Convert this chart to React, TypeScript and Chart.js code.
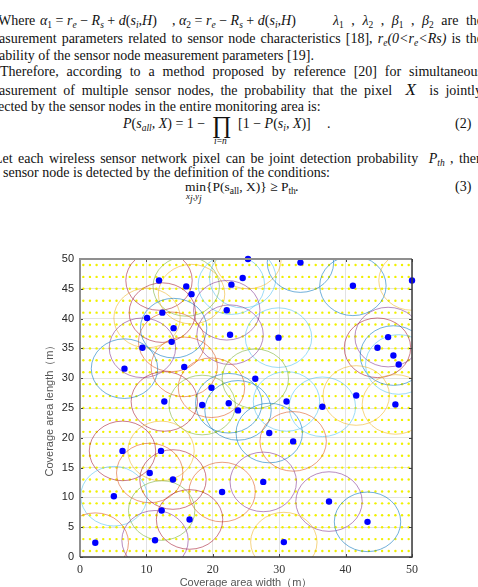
import React, { useEffect, useRef } from "react";
import { Chart, registerables } from "chart.js";
Chart.register(...registerables);

// Sensor node positions (m)
const nodeX = [11.9, 16.0, 16.8, 22.8, 24.5, 25.3, 22.1, 12.4, 10.1, 14.1, 22.6, 13.8, 9.4, 6.7, 15.7, 19.8, 12.7, 18.4, 22.4, 33.2, 41.1, 50.0, 29.9, 46.4, 44.8, 47.2, 48.0, 26.4, 31.1, 41.6, 36.5, 47.5, 23.8, 6.4, 12.2, 10.5, 14.0, 5.1, 21.4, 12.3, 16.5, 2.3, 11.3, 28.5, 32.1, 27.6, 37.5, 43.3, 30.7];
const nodeY = [46.4, 45.4, 44.1, 45.7, 46.8, 50.0, 41.4, 41.0, 40.1, 38.4, 37.3, 36.1, 35.1, 31.6, 31.9, 28.4, 26.1, 25.5, 25.8, 49.4, 45.5, 46.4, 36.8, 36.9, 35.1, 33.8, 32.3, 29.9, 26.1, 27.1, 25.2, 25.6, 24.6, 17.8, 17.8, 14.1, 13.0, 10.2, 10.9, 7.8, 6.3, 2.4, 2.8, 20.8, 19.4, 12.6, 9.3, 5.9, 2.5];
const coverageRadius = 5;
const circleColors = [
  "#A2142F", "#77AC30", "#EDB120", "#4DBEEE", "#4DBEEE", "#EDB120", "#7E2F8E", "#A2142F", "#EDB120", "#0072BD",
  "#7E2F8E", "#D95319", "#7E2F8E", "#0072BD", "#D95319", "#D95319", "#A2142F", "#77AC30", "#0072BD", "#0072BD",
  "#0072BD", "#EDB120", "#4DBEEE", "#7E2F8E", "#A2142F", "#0072BD", "#4DBEEE", "#77AC30", "#4DBEEE", "#EDB120",
  "#4DBEEE", "#EDB120", "#0072BD", "#A2142F", "#EDB120", "#D95319", "#A2142F", "#4DBEEE", "#D95319", "#77AC30",
  "#A2142F", "#D95319", "#7E2F8E", "#0072BD", "#D95319", "#7E2F8E", "#7E2F8E", "#0072BD", "#EDB120",
];

// Monitoring pixel grid
const pixelX = [0.5, 1.5, 2.5, 3.5, 4.5, 5.5, 6.5, 7.5, 8.5, 9.5, 10.5, 11.5, 12.5, 13.5, 14.5, 15.5, 16.5, 17.5, 18.5, 19.5, 20.5, 21.5, 22.5, 23.5, 24.5, 25.5, 26.5, 27.5, 28.5, 29.5, 30.5, 31.5, 32.5, 33.5, 34.5, 35.5, 36.5, 37.5, 38.5, 39.5, 40.5, 41.5, 42.5, 43.5, 44.5, 45.5, 46.5, 47.5, 48.5, 49.5];
const pixelY = [1, 3, 5, 7, 9, 11, 13, 15, 17, 19, 21, 23, 25, 27, 29, 31, 33, 35, 37, 39, 41, 43, 45, 47, 49];

const xTicks = [0, 10, 20, 30, 40, 50];
const yTicks = [0, 5, 10, 15, 20, 25, 30, 35, 40, 45, 50];
const xTitle = "Coverage area width（m）";
const yTitle = "Coverage area length（m）";

const overlay = {
  id: "overlay",
  beforeDatasetDraw(chart: any, args: any) {
    if (args.index !== 0) return;
    const { ctx, chartArea: a, scales } = chart;
    const xs = scales.x, ys = scales.y;
    ctx.save();
    ctx.beginPath();
    ctx.rect(a.left, a.top, a.right - a.left, a.bottom - a.top);
    ctx.clip();
    ctx.globalAlpha = 0.7;
    ctx.lineWidth = 0.8;
    nodeX.forEach((nx, i) => {
      const cx = xs.getPixelForValue(nx);
      const cy = ys.getPixelForValue(nodeY[i]);
      const rx = Math.abs(xs.getPixelForValue(nx + coverageRadius) - cx);
      const ry = Math.abs(ys.getPixelForValue(nodeY[i] + coverageRadius) - cy);
      ctx.beginPath();
      ctx.ellipse(cx, cy, rx, ry, 0, 0, Math.PI * 2);
      ctx.strokeStyle = circleColors[i % circleColors.length];
      ctx.stroke();
    });
    ctx.restore();
  },
  afterDraw(chart: any) {
    const { ctx, chartArea: a, scales } = chart;
    const xs = scales.x, ys = scales.y;
    ctx.save();
    ctx.strokeStyle = "#444";
    ctx.lineWidth = 1;
    ctx.beginPath();
    xTicks.forEach((v) => {
      const px = Math.round(xs.getPixelForValue(v)) + 0.5;
      ctx.moveTo(px, a.bottom); ctx.lineTo(px, a.bottom - 3);
      ctx.moveTo(px, a.top); ctx.lineTo(px, a.top + 3);
    });
    yTicks.forEach((v) => {
      const py = Math.round(ys.getPixelForValue(v)) + 0.5;
      ctx.moveTo(a.left, py); ctx.lineTo(a.left + 3, py);
      ctx.moveTo(a.right, py); ctx.lineTo(a.right - 3, py);
    });
    ctx.stroke();
    ctx.lineWidth = 2;
    ctx.strokeStyle = "#8f8f8f";
    ctx.beginPath();
    ctx.moveTo(a.left, a.bottom); ctx.lineTo(a.left, a.top); ctx.lineTo(a.right, a.top);
    ctx.stroke();
    ctx.lineWidth = 1.5;
    ctx.strokeStyle = "#3a3a3a";
    ctx.beginPath();
    ctx.moveTo(a.right, a.top); ctx.lineTo(a.right, a.bottom); ctx.lineTo(a.left, a.bottom);
    ctx.stroke();
    ctx.restore();
  },
};

function ChartBox() {
  const ref = useRef<HTMLCanvasElement>(null);
  useEffect(() => {
    const nodes = nodeX.map((x, i) => ({ x, y: nodeY[i] }));
    const pixels = pixelY.flatMap((y) => pixelX.map((x) => ({ x, y })));
    const chart = new Chart(ref.current!, {
      type: "scatter",
      data: {
        datasets: [
          { data: nodes, pointRadius: 3.2, pointBackgroundColor: "#0000ff", pointBorderWidth: 0, clip: false as any },
          { data: pixels, pointRadius: 1.2, pointBackgroundColor: "#f0f000", pointBorderWidth: 0 },
        ],
      },
      options: {
        responsive: false,
        animation: false,
        events: [],
        layout: { padding: { top: 29, right: 66, left: 0, bottom: 0 } },
        plugins: { legend: { display: false }, tooltip: { enabled: false } },
        scales: {
          x: {
            type: "linear",
            min: 0,
            max: 50,
            afterBuildTicks: (s: any) => { s.ticks = xTicks.map((v) => ({ value: v })); },
            afterFit: (s: any) => { s.height = 43; },
            grid: { color: "#e2e2e2", lineWidth: 1, drawTicks: false },
            border: { display: false },
            ticks: { padding: 6, maxRotation: 0, color: "#333", font: { family: "Liberation Serif", size: 12 } },
            title: { display: true, text: xTitle, color: "#555", font: { family: "Liberation Sans", size: 11 }, padding: { top: 0, bottom: 10 } },
          },
          y: {
            type: "linear",
            min: 0,
            max: 50,
            afterBuildTicks: (s: any) => { s.ticks = yTicks.map((v) => ({ value: v })); },
            afterFit: (s: any) => { s.width = 80; },
            grid: { color: "#e2e2e2", lineWidth: 1, drawTicks: false },
            border: { display: false },
            ticks: { padding: 6, color: "#262626", font: { family: "Liberation Sans", size: 11 } },
            title: { display: true, text: yTitle, color: "#555", font: { family: "Liberation Sans", size: 11 }, padding: { top: 43, bottom: 0 } },
          },
        },
      },
      plugins: [overlay],
    });
    return () => chart.destroy();
  }, []);
  return <canvas ref={ref} width={478} height={370} style={{ position: "absolute", left: 0, top: 230, width: 478, height: 370 }} />;
}

const sub = (t: string, italic = true) => (
  <span style={{ fontSize: 9.5, position: "relative", top: 3, fontStyle: italic ? "italic" : "normal" }}>{t}</span>
);
const I = ({ children }: any) => <span style={{ fontStyle: "italic" }}>{children}</span>;

function Line({ base, left, width, justify, children, size = 14 }: any) {
  return (
    <div
      style={{
        position: "absolute",
        left,
        top: base - 12.7,
        width: width ?? "auto",
        whiteSpace: justify ? "normal" : "nowrap",
        textAlign: justify ? "justify" : "left",
        textAlignLast: justify ? "justify" : "auto",
        lineHeight: "16px",
        fontSize: size,
      } as any}
    >
      {children}
    </div>
  );
}

export default function App() {
  return (
    <div
      style={{
        position: "fixed",
        left: 0,
        top: 0,
        width: 478,
        height: 587,
        overflow: "hidden",
        background: "#fff",
        fontFamily: "'Liberation Serif', serif",
        color: "#111",
      }}
    >
      <Line base={26} left={-2}>Where</Line>
      <Line base={26} left={40}>
        <I>α</I>{sub("1", false)} = <I>r</I>{sub("e")} − <I>R</I>{sub("s")} + <I>d</I>(<I>s</I>{sub("i")}<I>,H</I>)
      </Line>
      <Line base={26} left={172}>
        , <I>α</I>{sub("2", false)} = <I>r</I>{sub("e")} − <I>R</I>{sub("s")} + <I>d</I>(<I>s</I>{sub("i")}<I>,H</I>)
      </Line>
      <Line base={26} left={333} width={150} justify>
        <I>λ</I>{sub("1", false)} , <I>λ</I>{sub("2", false)} , <I>β</I>{sub("1", false)} , <I>β</I>{sub("2", false)} are the
      </Line>
      <Line base={44} left={-1} width={484} justify>
        asurement parameters related to sensor node characteristics [18], <I>r</I>{sub("e")}<I>(0&lt;r</I>{sub("e")}<I>&lt;Rs)</I> is the
      </Line>
      <Line base={61} left={-1}>ability of the sensor node measurement parameters [19].</Line>
      <Line base={77} left={0} width={483} justify>
        Therefore, according to a method proposed by reference [20] for simultaneous
      </Line>
      <Line base={95} left={-1} width={483} justify>
        asurement of multiple sensor nodes, the probability that the pixel &nbsp;<I><span style={{ fontSize: 17 }}>X</span></I>&nbsp; is jointly
      </Line>
      <Line base={112} left={-2}>ected by the sensor nodes in the entire monitoring area is:</Line>

      <Line base={129} left={123}>
        <I>P</I>(<I>s</I>{sub("all")}<I>, X</I>) = 1 −
      </Line>
      <Line base={130} left={212} size={24}>∏</Line>
      <Line base={146} left={214} size={9.5}><I>i</I>=<I>n</I></Line>
      <Line base={129} left={238}>
        [1 − <I>P</I>(<I>s</I>{sub("i")}<I>, X</I>)]
      </Line>
      <Line base={129} left={327}>.</Line>
      <Line base={129} left={455}>(2)</Line>

      <Line base={164} left={-6} width={489} justify>
        Let each wireless sensor network pixel can be joint detection probability &nbsp;<I>P</I>{sub("th")} , then
      </Line>
      <Line base={178} left={3}>sensor node is detected by the definition of the conditions:</Line>
      <Line base={192} left={185} size={13.5}>
        min{"{"}P(s{sub("all", false)}, X){"}"} ≥ P{sub("th", false)}
      </Line>
      <Line base={201} left={186} size={9}><I>x</I>{sub("j")}<I>,y</I>{sub("j")}</Line>
      <Line base={192} left={295}>.</Line>
      <Line base={192} left={455}>(3)</Line>

      <ChartBox />
    </div>
  );
}
